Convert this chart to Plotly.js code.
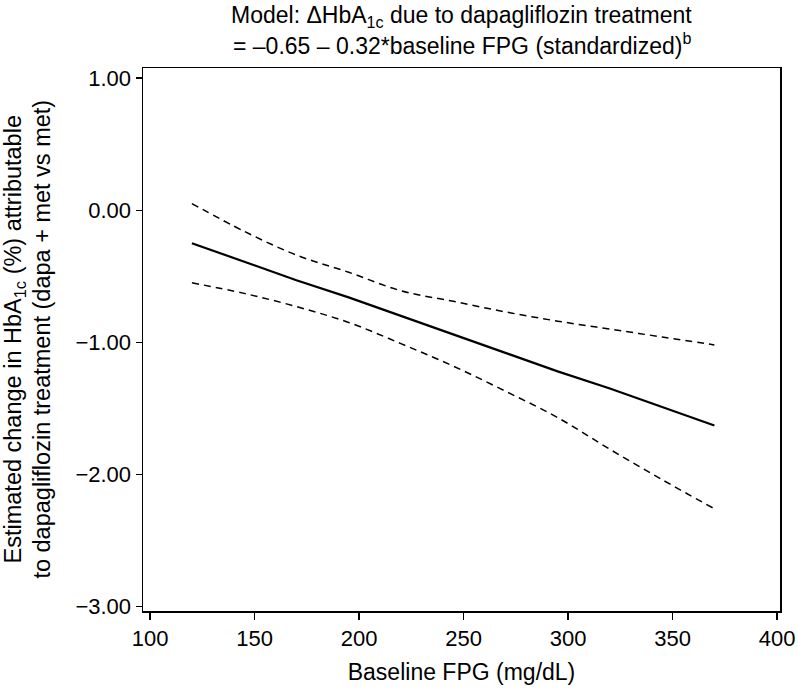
<!DOCTYPE html>
<html>
<head>
<meta charset="utf-8">
<script src="https://cdn.plot.ly/plotly-3.0.1.min.js"></script>
<style>html,body{margin:0;padding:0;background:#fff;}#chart{width:798px;height:689px;}</style>
</head>
<body>
<div id="chart"></div>
<script>
const fpg = [120, 145, 170, 195, 220, 245, 270, 295, 320, 345, 370];
const estimate = [-0.25, -0.39, -0.53, -0.66, -0.80, -0.94, -1.08, -1.22, -1.35, -1.49, -1.63];
const upperCI = [0.05, -0.16, -0.34, -0.47, -0.61, -0.69, -0.77, -0.84, -0.90, -0.96, -1.02];
const lowerCI = [-0.55, -0.63, -0.73, -0.85, -1.01, -1.18, -1.37, -1.57, -1.81, -2.04, -2.26];
const xTicks = [100, 150, 200, 250, 300, 350, 400];
const yTicks = [1, 0, -1, -2, -3];
const titleLines = ['Model: ΔHbA<sub>1c</sub> due to dapagliflozin treatment',
                    '= –0.65 – 0.32*baseline FPG (standardized)<sup>b</sup>'];
const yTitleLines = ['Estimated change in HbA<sub>1c</sub> (%) attributable',
                     'to dapagliflozin treatment (dapa + met vs met)'];

const FONT = '"Liberation Sans", Arial, Helvetica, sans-serif';

const traces = [
  {x: fpg, y: upperCI, mode: 'lines', line: {color: '#000', width: 1.5, dash: '7px,5px', shape: 'spline'}, hoverinfo: 'skip'},
  {x: fpg, y: lowerCI, mode: 'lines', line: {color: '#000', width: 1.5, dash: '7px,5px', shape: 'spline'}, hoverinfo: 'skip'},
  {x: fpg, y: estimate, mode: 'lines', line: {color: '#000', width: 2.2}, hoverinfo: 'skip'}
];

const layout = {
  width: 798, height: 689,
  margin: {l: 143, r: 18, t: 68, b: 78},
  paper_bgcolor: '#fff', plot_bgcolor: '#fff',
  showlegend: false,
  font: {family: FONT, color: '#000', size: 22},
  annotations: [
    {text: titleLines[0], xref: 'paper', yref: 'paper', x: 0.5, y: 1.094, xanchor: 'center', yanchor: 'middle', showarrow: false, font: {family: FONT, size: 23, color: '#000'}},
    {text: titleLines[1], xref: 'paper', yref: 'paper', x: 0.5, y: 1.044, xanchor: 'center', yanchor: 'middle', showarrow: false, font: {family: FONT, size: 23, color: '#000'}},
    {text: yTitleLines[0], xref: 'paper', yref: 'paper', x: -0.201, y: 0.5, xanchor: 'center', yanchor: 'middle', textangle: -90, showarrow: false, font: {family: FONT, size: 23.5, color: '#000'}},
    {text: yTitleLines[1], xref: 'paper', yref: 'paper', x: -0.160, y: 0.5, xanchor: 'center', yanchor: 'middle', textangle: -90, showarrow: false, font: {family: FONT, size: 23.5, color: '#000'}}
  ],
  xaxis: {
    range: [96.6, 401.4],
    tickvals: xTicks,
    ticktext: xTicks.map(String),
    ticks: 'outside', ticklen: 7, tickwidth: 1.3, tickcolor: '#000',
    showline: true, mirror: true, linecolor: '#000', linewidth: 1.5,
    showgrid: false, zeroline: false,
    tickfont: {family: FONT, size: 22, color: '#000'},
    title: {text: 'Baseline FPG (mg/dL)', font: {family: FONT, size: 23, color: '#000'}, standoff: 14}
  },
  yaxis: {
    range: [-3.034, 1.076],
    tickvals: yTicks,
    tickformat: '.2f',
    ticks: 'outside', ticklen: 6, tickwidth: 1.3, tickcolor: '#000',
    showline: true, mirror: true, linecolor: '#000', linewidth: 1.5,
    showgrid: false, zeroline: false,
    tickfont: {family: FONT, size: 22, color: '#000'}
  }
};

Plotly.newPlot('chart', traces, layout, {displayModeBar: false, staticPlot: true});
</script>
</body>
</html>
